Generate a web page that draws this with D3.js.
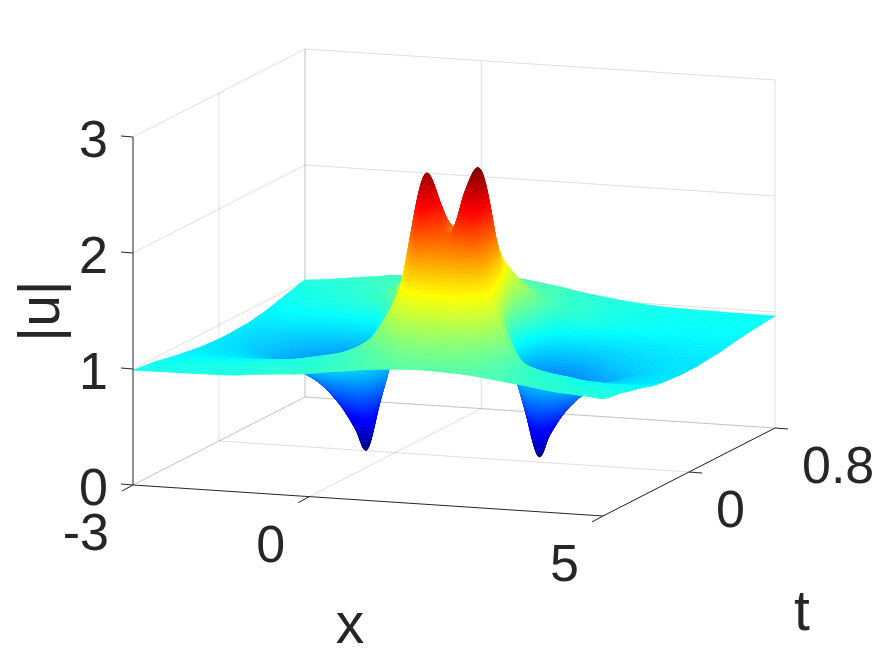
<!DOCTYPE html>
<html>
<head>
<meta charset="utf-8">
<script src="https://cdn.jsdelivr.net/npm/d3@7"></script>
<style>
  html, body { margin: 0; background: #fff; }
  text { font-family: "Liberation Sans", Arial, sans-serif; fill: #262626; }
</style>
</head>
<body>
<svg id="chart" width="875" height="656"></svg>
<script>
// axis limits and ticks
const xLimits = [-3, 5];
const tLimits = [-0.8, 0.8];
const zLimits = [0, 3];
const xTicks = [-3, 0, 5];
const tTicks = [0, 0.8];
const zTicks = [0, 1, 2, 3];
const colorLimits = [0, 2.5];

// values. each row is one t, and the columns are
// offsets from the point where the ridge sits in that row (it drifts with t)
const tRows = [-0.8, -0.6, -0.45, -0.3, -0.2, -0.1, 0, 0.1, 0.2, 0.3, 0.45, 0.6, 0.8];
const ridgeCentre = [2.02, 1.76, 1.565, 1.37, 1.24, 1.11, 0.98, 0.85, 0.72, 0.59, 0.395, 0.2, -0.06];
const xOffsets = [-5.2, -3.5, -3, -2.5, -2.2, -1.9, -1.65, -1.46, -1.25, -1, -0.75, -0.48, -0.22, 0,
  0.22, 0.48, 0.75, 1, 1.25, 1.46, 1.65, 1.9, 2.2, 2.5, 3, 3.5, 4, 5.2];
const zRows = [
  [0.99, 1.0, 1.02, 1.04, 1.05, 1.07, 1.09, 1.1, 1.115, 1.13, 1.14, 1.15, 1.155, 1.155, 1.15, 1.145, 1.135, 1.12, 1.105, 1.09, 1.08, 1.06, 1.04, 1.03, 1.009, 1.009, 1.009, 1.009],
  [0.965, 0.985, 1.0, 1.02, 1.03, 1.05, 1.07, 1.09, 1.12, 1.17, 1.22, 1.26, 1.28, 1.28, 1.28, 1.26, 1.22, 1.17, 1.12, 1.09, 1.06, 1.04, 1.02, 1.0, 0.985, 0.975, 0.975, 0.975],
  [0.935, 0.945, 0.965, 0.985, 1.01, 1.04, 1.07, 1.11, 1.17, 1.25, 1.36, 1.42, 1.44, 1.44, 1.44, 1.42, 1.37, 1.28, 1.17, 1.08, 1.04, 1.01, 0.99, 0.965, 0.95, 0.94, 0.94, 0.94],
  [0.91, 0.89, 0.87, 0.85, 0.84, 0.84, 0.86, 0.92, 1.08, 1.31, 1.52, 1.64, 1.66, 1.66, 1.66, 1.64, 1.53, 1.33, 1.08, 0.9, 0.85, 0.84, 0.84, 0.85, 0.875, 0.89, 0.9, 0.9],
  [0.895, 0.86, 0.82, 0.77, 0.73, 0.68, 0.66, 0.68, 0.88, 1.2, 1.6, 1.92, 1.88, 1.87, 1.92, 1.95, 1.62, 1.2, 0.88, 0.68, 0.65, 0.69, 0.74, 0.79, 0.84, 0.87, 0.885, 0.885],
  [0.885, 0.84, 0.78, 0.69, 0.62, 0.5, 0.4, 0.34, 0.62, 1.05, 1.68, 2.2, 2.06, 1.97, 2.2, 2.28, 1.7, 1.05, 0.62, 0.36, 0.42, 0.54, 0.66, 0.74, 0.82, 0.86, 0.878, 0.878],
  [0.88, 0.83, 0.75, 0.64, 0.54, 0.38, 0.18, 0.01, 0.41, 0.92, 1.78, 2.41, 2.17, 1.85, 2.3, 2.48, 1.8, 0.92, 0.42, 0.05, 0.24, 0.44, 0.6, 0.69, 0.79, 0.85, 0.875, 0.878],
  [0.88, 0.84, 0.78, 0.69, 0.62, 0.52, 0.4, 0.36, 0.62, 1.05, 1.7, 2.25, 2.05, 1.9, 2.08, 2.22, 1.68, 1.05, 0.62, 0.34, 0.4, 0.52, 0.66, 0.74, 0.82, 0.86, 0.878, 0.88],
  [0.885, 0.86, 0.82, 0.77, 0.73, 0.69, 0.65, 0.68, 0.88, 1.2, 1.62, 1.95, 1.88, 1.85, 1.88, 1.93, 1.6, 1.2, 0.88, 0.68, 0.66, 0.68, 0.73, 0.79, 0.84, 0.87, 0.885, 0.89],
  [0.89, 0.89, 0.88, 0.87, 0.85, 0.84, 0.85, 0.9, 1.08, 1.33, 1.53, 1.64, 1.66, 1.66, 1.66, 1.64, 1.53, 1.33, 1.08, 0.92, 0.86, 0.84, 0.84, 0.85, 0.875, 0.89, 0.9, 0.9],
  [0.92, 0.92, 0.95, 0.98, 0.99, 1.01, 1.04, 1.08, 1.17, 1.28, 1.37, 1.42, 1.44, 1.44, 1.44, 1.42, 1.37, 1.28, 1.17, 1.09, 1.05, 1.03, 1.0, 0.97, 0.945, 0.93, 0.925, 0.925],
  [0.96, 0.96, 0.98, 1.0, 1.02, 1.04, 1.06, 1.09, 1.12, 1.17, 1.22, 1.26, 1.28, 1.28, 1.28, 1.26, 1.22, 1.17, 1.12, 1.09, 1.06, 1.04, 1.01, 0.99, 0.97, 0.955, 0.945, 0.945],
  [1.009, 1.009, 1.009, 1.03, 1.05, 1.07, 1.085, 1.1, 1.105, 1.12, 1.135, 1.145, 1.155, 1.155, 1.155, 1.155, 1.14, 1.125, 1.105, 1.09, 1.07, 1.05, 1.03, 1.01, 0.985, 0.975, 0.97, 0.966]
];

const svg = d3.select('#chart');

// the plot box as seen on screen: one scale per data axis, each gives the
// pixel shift along that axis' direction
const xScale = d3.scaleLinear().domain(xLimits).range([0, 1]);
const tScale = d3.scaleLinear().domain(tLimits).range([0, 1]);
const zScale = d3.scaleLinear().domain(zLimits).range([0, 348]);

function project(x, t, z) {
  const a = xScale(x), b = tScale(t);
  return [133 + 470 * a + 172 * b, 485 + 31 * a - 88 * b - zScale(z)];
}

// matlab jet
const jet = d3.scaleLinear()
  .domain([0, 0.125, 0.375, 0.625, 0.875, 1].map(d => colorLimits[0] + d * (colorLimits[1] - colorLimits[0])))
  .range(['#000080', '#0000ff', '#00ffff', '#ffff00', '#ff0000', '#800000'])
  .clamp(true);

function drawLine(p, q, stroke) {
  svg.append('line')
    .attr('x1', p[0]).attr('y1', p[1])
    .attr('x2', q[0]).attr('y2', q[1])
    .attr('stroke', stroke)
    .attr('stroke-width', 1);
}

// grid on the floor and the two back walls
const gridColor = 'rgba(38,38,38,0.15)';
const [x0, x1] = xLimits, [t0, t1] = tLimits, [z0, z1] = zLimits;
xTicks.forEach(x => {
  drawLine(project(x, t0, z0), project(x, t1, z0), gridColor);
  drawLine(project(x, t1, z0), project(x, t1, z1), gridColor);
});
tTicks.forEach(t => {
  drawLine(project(x0, t, z0), project(x1, t, z0), gridColor);
  drawLine(project(x0, t, z0), project(x0, t, z1), gridColor);
});
zTicks.forEach(z => {
  drawLine(project(x0, t0, z), project(x0, t1, z), gridColor);
  drawLine(project(x0, t1, z), project(x1, t1, z), gridColor);
});

// smooth the read values so the mesh looks like shading interp
function catmull(a, u) {
  const n = a.length - 1;
  const i = Math.min(Math.floor(u), n - 1), s = u - i;
  const p0 = a[Math.max(i - 1, 0)], p1 = a[i], p2 = a[i + 1], p3 = a[Math.min(i + 2, n)];
  return p1 + 0.5 * s * (p2 - p0 + s * (2 * p0 - 5 * p1 + 4 * p2 - p3 + s * (3 * (p1 - p2) + p3 - p0)));
}

// finer cuts across the steep middle columns, the colour changes fast there
const uSteps = [];
d3.range(xOffsets.length - 1).forEach(j => {
  const n = j >= 6 && j < 21 ? 20 : 6;
  d3.range(n).forEach(k => uSteps.push(j + k / n));
});
uSteps.push(xOffsets.length - 1);
const vSub = 8;
const vSteps = d3.range((tRows.length - 1) * vSub + 1).map(d => d / vSub);

const xGrid = tRows.map((t, i) => xOffsets.map(d => Math.max(x0, Math.min(x1, ridgeCentre[i] + d))));
const fineX = xGrid.map(row => uSteps.map(u => catmull(row, u)));
const fineZ = zRows.map(row => uSteps.map(u => catmull(row, u)));

const mesh = vSteps.map(v => {
  const t = catmull(tRows, v);
  return uSteps.map((u, j) => {
    const x = catmull(fineX.map(r => r[j]), v);
    const z = catmull(fineZ.map(r => r[j]), v);
    const cx = Math.max(x0, Math.min(x1, x));
    return { p: project(cx, t, z), z: Math.max(z, 0) };
  });
});

// back to front: high t first, then low x first
const surface = svg.append('g');
for (let i = mesh.length - 2; i >= 0; i--) {
  for (let j = 0; j < uSteps.length - 1; j++) {
    const corners = [mesh[i][j], mesh[i][j + 1], mesh[i + 1][j + 1], mesh[i + 1][j]];
    if (Math.abs(corners[0].p[0] - corners[1].p[0]) < 1e-6 && Math.abs(corners[3].p[0] - corners[2].p[0]) < 1e-6) continue;
    const color = jet(d3.mean(corners, c => c.z));
    surface.append('path')
      .attr('d', 'M' + corners.map(c => c.p[0].toFixed(2) + ',' + c.p[1].toFixed(2)).join('L') + 'Z')
      .attr('fill', color)
      .attr('stroke', color)
      .attr('stroke-width', 0.6);
  }
}

// axes and tick marks
const axisColor = '#262626';
drawLine(project(x0, t0, z0), project(x1, t0, z0), axisColor);
drawLine(project(x1, t0, z0), project(x1, t1, z0), axisColor);
drawLine(project(x0, t0, z0), project(x0, t0, z1), axisColor);

xTicks.forEach(x => {
  const p = project(x, t0, z0);
  drawLine(p, [p[0] - 11, p[1] + 6], axisColor);
  svg.append('text').attr('x', p[0] - 24).attr('y', p[1] + 65)
    .attr('text-anchor', 'end').attr('font-size', 52).text(x);
});
tTicks.forEach(t => {
  const p = project(x1, t, z0);
  drawLine(p, [p[0] + 13, p[1] + 1], axisColor);
  svg.append('text').attr('x', p[0] + 27).attr('y', p[1] + 55)
    .attr('text-anchor', 'start').attr('font-size', 52).text(t);
});
zTicks.forEach(z => {
  const p = project(x0, t0, z);
  drawLine(p, [p[0] - 12, p[1] - 1], axisColor);
  svg.append('text').attr('x', p[0] - 25).attr('y', p[1] + 20)
    .attr('text-anchor', 'end').attr('font-size', 52).text(z);
});

// axis titles
svg.append('text').attr('x', 350).attr('y', 643).attr('text-anchor', 'middle').attr('font-size', 57).text('x');
svg.append('text').attr('x', 802).attr('y', 630).attr('text-anchor', 'middle').attr('font-size', 57).text('t');
svg.append('text').attr('transform', 'translate(59,311) rotate(-90)').attr('text-anchor', 'middle').attr('font-size', 57).text('|u|');
</script>
</body>
</html>
